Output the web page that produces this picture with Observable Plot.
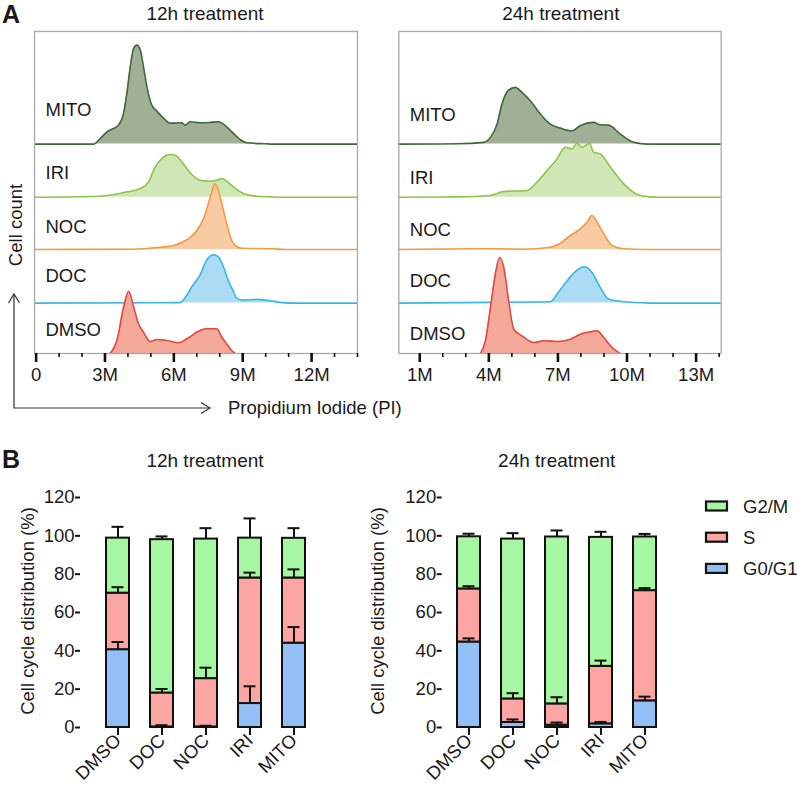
<!DOCTYPE html>
<html><head><meta charset="utf-8">
<script src="https://cdn.jsdelivr.net/npm/d3@7"></script>
<script src="https://cdn.jsdelivr.net/npm/@observablehq/plot@0.6"></script>
<style>
html,body{margin:0;padding:0;background:#fff;}
#root{position:relative;width:797px;height:793px;overflow:hidden;font-family:"Liberation Sans",Arial,Helvetica,sans-serif;color:#1a1a1a;background:#fff;}
#root > svg{position:absolute;overflow:visible;}
</style></head><body><div id="root"></div>
<script>
// ---------------- DATA ----------------
const samples = ["MITO", "IRI", "NOC", "DOC", "DMSO"]; // top to bottom in histograms
const treatments = ["DMSO", "DOC", "NOC", "IRI", "MITO"];
const stages = ["G0/G1", "S", "G2/M"];

// Histogram outlines: [Propidium Iodide (millions), cell count (relative)]
const h12_MITO = [[2.51,0],[2.80,5.7],[3.09,12.3],[3.38,15.7],[3.59,19],[3.81,30.7],[3.96,52],[4.10,77],[4.25,95.7],[4.39,99],[4.54,94],[4.68,77],[4.83,57],[5.04,39],[5.26,33],[5.55,26],[5.84,21],[6.06,21],[6.35,21.3],[6.49,19],[6.71,22.3],[7.14,21.3],[7.58,21.7],[7.94,22.3],[8.30,17.3],[8.59,10.7],[8.88,4.7],[9.17,1.3],[10.0,0.3],[10.3,0]];
const h12_IRI = [[2.80,1],[3.96,5.3],[4.54,8.7],[4.90,15.3],[5.19,30.3],[5.48,38.7],[5.84,42.7],[6.06,42],[6.35,35.3],[6.71,24.5],[7.14,17],[7.58,16],[7.87,17],[8.09,18.7],[8.30,16],[8.59,10.3],[9.03,3.7],[9.60,1],[10.2,0.3],[10.6,0]];
const h12_NOC = [[4.25,0.3],[5.41,2.3],[5.99,4],[6.42,8],[6.71,12],[7.0,19],[7.29,30.7],[7.50,45.7],[7.65,57.3],[7.80,65.7],[7.94,59],[8.09,45.7],[8.23,32.3],[8.38,19],[8.52,9],[8.74,3],[8.95,1.3],[10.3,0.7],[10.8,0]];
const h12_DOC = [[4.97,0.3],[6.27,0.5],[6.57,8],[6.78,16.3],[7.14,28],[7.43,43],[7.72,48.3],[7.94,46.3],[8.16,36.3],[8.38,22],[8.59,12],[8.74,4.7],[9.03,3],[9.60,3.7],[10.2,2.3],[10.75,0.5],[11.2,0]];
const h12_DMSO = [[3.23,0],[3.52,13],[3.81,46.3],[4.03,62.3],[4.25,46.3],[4.46,29.7],[4.68,21.3],[4.97,12],[5.26,14],[5.70,13],[6.20,10.7],[6.57,14.7],[7.07,22.3],[7.43,24.7],[7.87,24.7],[8.09,16.3],[8.30,9.7],[8.52,3],[8.67,0]];

const h24_MITO = [[2.62,0.3],[3.78,1.7],[4.07,6.7],[4.36,20],[4.57,40],[4.86,54],[5.15,56.7],[5.44,51.7],[5.80,43.3],[6.24,30],[6.67,20],[7.11,16],[7.61,13.3],[7.97,18.3],[8.55,21.7],[8.84,19.3],[9.20,19],[9.71,10],[10.3,1.7],[10.9,0]];
const h24_IRI = [[2.62,0.3],[4.07,1.7],[4.65,5.7],[5.66,6.7],[6.09,15],[6.53,26.7],[6.96,38.3],[7.32,50],[7.61,48.3],[7.83,54],[8.05,50],[8.37,54],[8.55,45],[8.84,43.3],[9.28,30],[9.86,13.3],[10.4,3.3],[11.0,0.3],[11.4,0]];
const h24_NOC = [[4.07,0.7],[5.52,0.3],[6.67,2.3],[7.11,6.3],[7.54,14],[7.97,20.7],[8.26,27.3],[8.48,34],[8.70,27.3],[8.99,15.7],[9.35,4],[9.86,0.7],[10.7,0]];
const h24_DOC = [[4.07,0.7],[6.67,1.3],[6.96,9],[7.40,22.3],[7.83,33],[8.16,36.3],[8.48,30.7],[8.84,15.7],[9.20,4],[9.86,1.3],[10.7,0.3],[11.2,0]];
const h24_DMSO = [[3.63,0],[3.85,12.7],[4.07,46],[4.28,79.3],[4.47,96],[4.65,86],[4.86,52.7],[5.08,24.3],[5.44,17.7],[5.95,11],[6.38,12.7],[6.96,12],[7.54,14.3],[7.97,19.3],[8.41,21.7],[8.70,22.7],[8.99,16],[9.35,6],[9.71,0]];

const ticks12_major = [0, 3, 6, 9, 12];
const ticks24_major = [1, 4, 7, 10, 13];

// Cell cycle distribution (%), order of treatments; sd = upward error
const g0_12h  = [40.6, 0.3, 0.3, 12.5, 44.0];
const g0_12h_sd = [4.0, 0.9, 0.6, 9.0, 8.4];
const s_12h   = [29.5, 17.7, 25.2, 65.5, 34.0];
const s_12h_sd  = [3.1, 2.1, 5.7, 2.8, 4.5];
const g2m_12h = [28.7, 80.0, 72.8, 20.8, 20.7];
const g2m_12h_sd = [5.9, 1.7, 5.7, 10.3, 5.3];

const g0_24h  = [44.6, 2.6, 1.2, 1.9, 13.9];
const g0_24h_sd = [1.9, 1.6, 1.4, 1.0, 2.2];
const s_24h   = [27.7, 12.3, 11.1, 30.0, 57.5];
const s_24h_sd  = [1.4, 3.0, 3.5, 3.0, 1.3];
const g2m_24h = [27.2, 83.4, 87.1, 67.3, 28.0];
const g2m_24h_sd = [1.6, 3.1, 3.4, 2.9, 1.6];

const yTicks = [0, 20, 40, 60, 80, 100, 120];

// ---------------- STYLE / LAYOUT ----------------
const FONT = '"Liberation Sans", Arial, Helvetica, sans-serif';
const FS = 18.5;
const TXT = "#1a1a1a";
const sampleFill = {MITO:"#a0af95", IRI:"#d1e6b6", NOC:"#f9cba2", DOC:"#abdcf4", DMSO:"#f3a898"};
const sampleStroke = {MITO:"#3e6b38", IRI:"#8cc648", NOC:"#f39a42", DOC:"#38b6e8", DMSO:"#e84640"};
const stageColors = ["#94bff6", "#fca6a4", "#a6f7a1"];
const ridgeBase = {DMSO:0, DOC:50.4, NOC:104, IRI:156.3, MITO:209.4};
const labelOff12 = {MITO:34.3, IRI:23.7, NOC:22.3, DOC:27, DMSO:23.3};
const labelOff24 = {MITO:28.8, IRI:18.9, NOC:19, DOC:22.3, DMSO:19};

const root = document.getElementById("root");
function place(el, left, top) {
  d3.select(el).selectAll("text").style("font-size", FS + "px").style("font-family", FONT);
  el.style.left = left + "px"; el.style.top = top + "px"; root.appendChild(el);
}

function ridgePlot(curves, xDomain, majors, minorStart, labelOff, width, mLeft, mRight) {
  const marks = [];
  for (const name of samples) {
    const base = ridgeBase[name];
    const pts = name === "DMSO" ? curves[name] : [[xDomain[0], 0], ...curves[name], [xDomain[1], 0]];
    marks.push(Plot.areaY(pts, {x: d => d[0], y1: base, y2: d => base + d[1], fill: sampleFill[name], curve: "monotone-x", clip: true}));
    marks.push(Plot.line(pts, {x: d => d[0], y: d => base + d[1], stroke: sampleStroke[name], strokeWidth: 1.6, curve: "monotone-x", clip: true}));
    marks.push(Plot.text([name], {frameAnchor: "left", dx: 11, y: base + labelOff[name], text: d => d, fill: TXT, textAnchor: "start", fontSize: FS}));
  }
  marks.push(Plot.frame({stroke: "#a8a8a8", strokeWidth: 1.3}));
  marks.push(Plot.axisX(d3.range(minorStart, 15), {tickSize: 4, strokeWidth: 1.6, tickFormat: () => "", label: null, stroke: "#111"}));
  marks.push(Plot.axisX(majors, {tickSize: 9, strokeWidth: 2.6, tickPadding: 5, tickFormat: d => d === 0 ? "0" : d + "M", label: null, stroke: "#111", fill: TXT, fontSize: FS}));
  return Plot.plot({
    width, height: 395,
    marginLeft: mLeft, marginRight: mRight, marginTop: 31, marginBottom: 42,
    x: {domain: xDomain},
    y: {domain: [0, 322], axis: null},
    style: {fontFamily: FONT, fontSize: FS + "px", color: TXT, background: "transparent"},
    marks
  });
}

const curves12 = {MITO: h12_MITO, IRI: h12_IRI, NOC: h12_NOC, DOC: h12_DOC, DMSO: h12_DMSO};
const curves24 = {MITO: h24_MITO, IRI: h24_IRI, NOC: h24_NOC, DOC: h24_DOC, DMSO: h24_DMSO};
place(ridgePlot(curves12, [-0.07, 14.0], ticks12_major, 1, labelOff12, 390, 34, 33), 0, 0);
place(ridgePlot(curves24, [0.09, 14.09], ticks24_major, 2, labelOff24, 407, 8.3, 76.3), 390, 0);

function buildRows(parts) {
  const rows = [];
  treatments.forEach((t, i) => {
    let cum = 0;
    parts.forEach(([vals, sds], k) => {
      rows.push({treatment: t, stage: stages[k], y1: cum, y2: cum + vals[i], sd: sds[i]});
      cum += vals[i];
    });
  });
  return rows;
}
const rows12 = buildRows([[g0_12h, g0_12h_sd], [s_12h, s_12h_sd], [g2m_12h, g2m_12h_sd]]);
const rows24 = buildRows([[g0_24h, g0_24h_sd], [s_24h, s_24h_sd], [g2m_24h, g2m_24h_sd]]);

function barPlot(rows, width, mLeft, mRight, pOuter, align) {
  return Plot.plot({
    width, height: 323,
    marginLeft: mLeft, marginRight: mRight, marginTop: 27, marginBottom: 66,
    x: {domain: treatments, paddingInner: 0.479, paddingOuter: pOuter, align},
    y: {domain: [0, 120]},
    color: {domain: stages, range: stageColors},
    style: {fontFamily: FONT, fontSize: FS + "px", color: TXT, background: "transparent"},
    marks: [
      Plot.barY(rows, {x: "treatment", y1: "y1", y2: "y2", fill: "stage", stroke: "#111", strokeWidth: 2}),
      Plot.ruleX(rows, {x: "treatment", y1: "y2", y2: d => d.y2 + d.sd, stroke: "#111", strokeWidth: 2}),
      Plot.tickY(rows, {x: "treatment", y: d => d.y2 + d.sd, insetLeft: 5.5, insetRight: 5.5, stroke: "#111", strokeWidth: 2}),
      Plot.axisY(yTicks, {tickSize: 5, tickPadding: 1, strokeWidth: 2, line: true, label: null, stroke: "#111", fill: TXT, fontSize: FS}),
      Plot.axisX({tickSize: 8, tickPadding: 2, tickRotate: -45, strokeWidth: 2, line: true, label: null, stroke: "#111", fill: TXT, fontSize: FS})
    ]
  });
}
place(barPlot(rows12, 340, 80, 18, 0.4475, 0.609), 0, 470);
place(barPlot(rows24, 300, 61.7, 6.7, 0.33, 0.47), 380, 470);

// ---------------- Overlay text, arrows, legend ----------------
const ov = d3.create("svg").attr("width", 797).attr("height", 793)
  .style("font-family", FONT).style("pointer-events", "none");
function txt(s, x, y, opts = {}) {
  const t = ov.append("text").attr("x", x).attr("y", y).text(s)
    .attr("fill", TXT).style("font-size", (opts.size || FS) + "px")
    .attr("text-anchor", opts.anchor || "start");
  if (opts.bold) t.attr("font-weight", "bold");
  if (opts.rotate) t.attr("x", 0).attr("y", 0).attr("transform", `translate(${x},${y}) rotate(-90)`);
  return t;
}
txt("A", 2, 23, {size: 25, bold: true});
txt("B", 2, 468, {size: 25, bold: true});
txt("12h treatment", 205, 20, {anchor: "middle", size: 19});
txt("24h treatment", 560.8, 20, {anchor: "middle", size: 19});
txt("12h treatment", 205, 466.7, {anchor: "middle", size: 19});
txt("24h treatment", 556.7, 466.7, {anchor: "middle", size: 19});
txt("Cell count", 21.5, 225, {anchor: "middle", rotate: true});
txt("Propidium Iodide (PI)", 228, 414);
txt("Cell cycle distribution (%)", 34, 611, {anchor: "middle", rotate: true});
txt("Cell cycle distribution (%)", 384, 611, {anchor: "middle", rotate: true});

// axis arrows
ov.append("path").attr("d", "M14,294 L14,408 L210,408").attr("fill", "none").attr("stroke", "#333").attr("stroke-width", 1.2);
ov.append("path").attr("d", "M8.5,303 L14,294 L19.5,303").attr("fill", "none").attr("stroke", "#333").attr("stroke-width", 1.2);
ov.append("path").attr("d", "M201,402.5 L210,408 L201,413.5").attr("fill", "none").attr("stroke", "#333").attr("stroke-width", 1.2);

// legend (top to bottom: G2/M, S, G0/G1)
const legendOrder = [2, 1, 0];
legendOrder.forEach((k, j) => {
  const cy = 506 + j * 31.2;
  ov.append("rect").attr("x", 706).attr("y", cy - 4.5).attr("width", 21).attr("height", 9)
    .attr("fill", stageColors[k]).attr("stroke", "#111").attr("stroke-width", 2.2);
  txt(stages[k], 743, cy + 6.6);
});
root.appendChild(ov.node());
ov.node().style.left = "0px"; ov.node().style.top = "0px";
</script></body></html>
